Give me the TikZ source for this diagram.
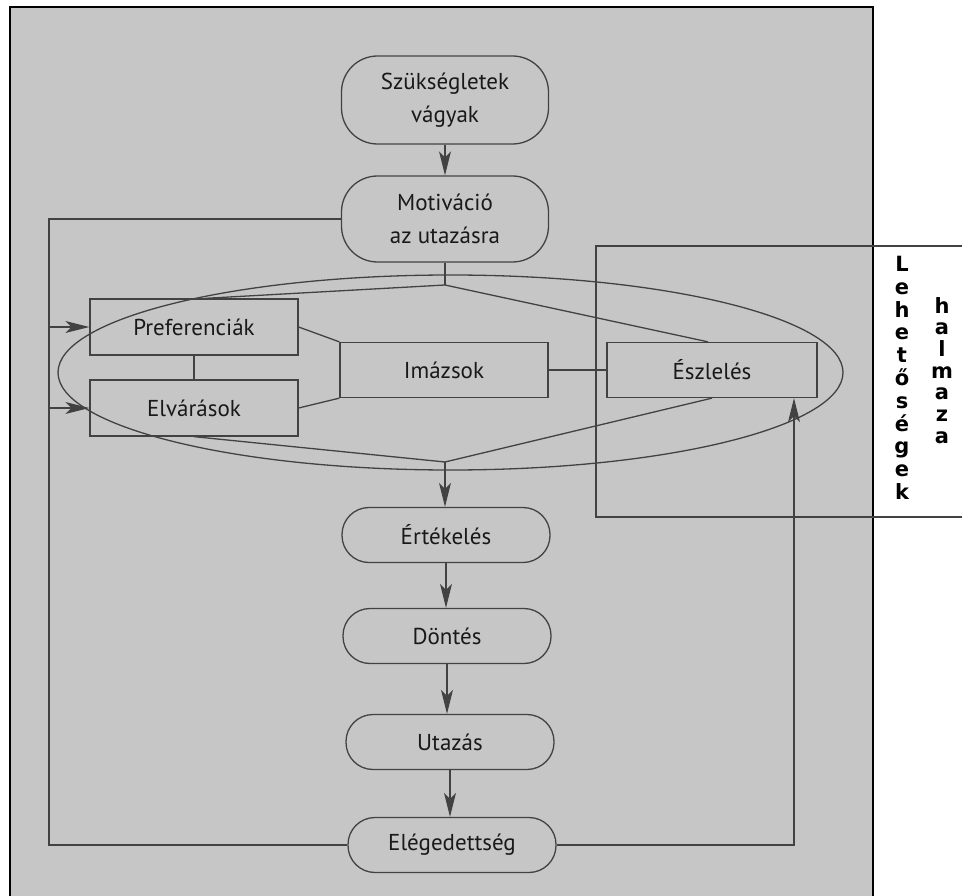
\documentclass[tikz,border=0pt]{standalone}
\usepackage{fontspec}
\setmainfont{PT Sans}
\newfontfamily\lehfont{DejaVu Sans}
\usetikzlibrary{shapes.geometric,arrows.meta}
\definecolor{bgpanel}{RGB}{198,198,198}
\definecolor{ln}{RGB}{66,66,66}
\definecolor{txt}{RGB}{25,25,25}
\tikzset{
  nodebase/.style={draw=ln, line width=1.3pt, text=txt, font=\fontsize{23}{33}\selectfont, inner sep=0pt, align=center},
  pill/.style={nodebase, rounded corners=27pt, minimum width=208pt, minimum height=55pt},
  pilltwo/.style={nodebase, rounded corners=36pt, minimum width=207pt, minimum height=88pt},
  boxnode/.style={nodebase, minimum width=208pt, minimum height=56pt},
  conn/.style={draw=ln, line width=1.3pt},
  arr/.style={conn, -{Stealth[length=24pt,width=12pt,inset=6pt,fill=ln]}},
  vlabel/.style={font=\lehfont\bfseries\fontsize{21}{22.8}\selectfont, align=center, inner sep=0pt, anchor=north, text=black},
}
\begin{document}
\begin{tikzpicture}[x=1pt,y=-1pt]
\useasboundingbox (0,0) rectangle (962,896);
\fill[white] (0,0) rectangle (962,896);
\fill[bgpanel] (10,7) rectangle (873,896);
\draw[black, line width=1.5pt] (10,896) -- (10,7) -- (873,7) -- (873,896);

% ellipse
\node[ellipse, draw=ln, line width=1.3pt, minimum width=785pt, minimum height=195pt, inner sep=0pt] (ell) at (450.5,372.5) {};

% nodes
\node[pilltwo] (szuk) at (445,100) {Szükségletek\\vágyak};
\node[pilltwo, minimum height=86pt] (motiv) at (445,219) {Motiváció\\az utazásra};
\node[boxnode] (pref) at (194,327) {Preferenciák};
\node[boxnode] (elv) at (194,408) {Elvárások};
\node[boxnode, minimum height=55pt] (imazs) at (444,370) {Imázsok};
\node[boxnode, minimum width=210pt, minimum height=55pt] (eszl) at (712,370) {Észlelés};
\node[pill] (ert) at (446,535) {Értékelés};
\node[pill] (dont) at (447,636) {Döntés};
\node[pill] (utaz) at (450,742) {Utazás};
\node[pill] (eleg) at (452,845) {Elégedettség};

% Lehetőségek halmaza box
\draw[conn] (962,246) -- (596,246) -- (596,517) -- (962,517);
\node[vlabel] (leh) at (902,256) {L\\e\\h\\e\\t\\ő\\s\\é\\g\\e\\k};
\node[vlabel, font=\lehfont\bfseries\fontsize{21}{21.7}\selectfont] (halm) at (942,297) {h\\a\\l\\m\\a\\z\\a};

% connectors
\coordinate (top) at (445,285);
\coordinate (bot) at (445,462);
\draw[arr] (szuk.south) -- (motiv.north);
\draw[conn] (motiv.south) -- (top);
\draw[conn] ([xshift=11pt]pref.north) -- (top) -- ([xshift=-4pt]eszl.north);
\draw[conn] (pref.east) -- (imazs.north west);
\draw[conn] (elv.east) -- (imazs.south west);
\draw[conn] (pref.south) -- (elv.north);
\draw[conn] (imazs.east) -- (eszl.west);
\draw[conn] (elv.south) -- (bot) -- (eszl.south);
\draw[arr] (bot) -- (bot |- ert.north);
\draw[arr] (ert.south) -- (ert.south |- dont.north);
\draw[arr] (dont.south) -- (dont.south |- utaz.north);
\draw[arr] (utaz.south) -- (utaz.south |- eleg.north);

% left feedback loop
\coordinate (lt) at (49,219);
\draw[conn] (eleg.west) -| (lt) -- (motiv.west);
\draw[arr] (lt |- pref.west) -- (pref.west);
\draw[arr] (lt |- elv.west) -- (elv.west);

% right feedback loop
\coordinate (rx) at (794,845);
\draw[arr] (eleg.east) -- (rx) -- (rx |- eszl.south);
\end{tikzpicture}
\end{document}
